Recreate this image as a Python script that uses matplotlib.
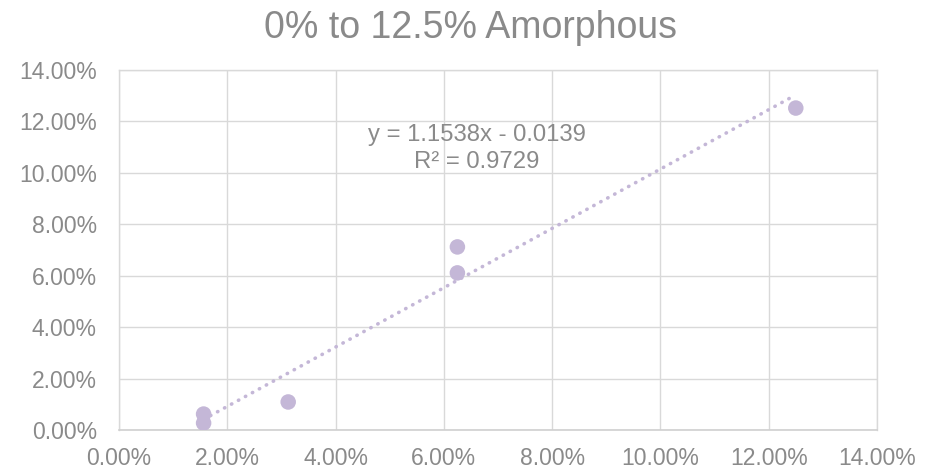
import matplotlib
matplotlib.use("Agg")
import matplotlib.pyplot as plt
from matplotlib.ticker import PercentFormatter, MultipleLocator

plt.rcParams['font.family'] = ['Liberation Sans', 'DejaVu Sans']

# Measured fraction vs. nominal amorphous fraction
nominal = [0.015625, 0.015625, 0.03125, 0.0625, 0.0625, 0.125]
measured = [0.0027, 0.0062, 0.0109, 0.0611, 0.0712, 0.1252]

# Linear trendline coefficients
slope = 1.1538
intercept = -0.0139
r_squared = 0.9729

title = "0% to 12.5% Amorphous"

text_color = "#8A8A8A"
grid_color = "#D9D9D9"
point_color = "#C4B7D7"

fig = plt.figure(figsize=(9.4, 4.72), dpi=100)
ax = fig.add_axes([119 / 940, 1 - 430 / 472, 758 / 940, 360 / 472])

ax.set_xlim(0, 0.14)
ax.set_ylim(0, 0.14)
ax.xaxis.set_major_locator(MultipleLocator(0.02))
ax.yaxis.set_major_locator(MultipleLocator(0.02))
ax.xaxis.set_major_formatter(PercentFormatter(1.0, decimals=2))
ax.yaxis.set_major_formatter(PercentFormatter(1.0, decimals=2))

ax.grid(True, color=grid_color, linewidth=1.0, zorder=0)
ax.set_axisbelow(True)
for side in ["top", "right", "left"]:
    ax.spines[side].set_color(grid_color)
    ax.spines[side].set_linewidth(1.0)
ax.spines["bottom"].set_color("#D0D0D0")
ax.spines["bottom"].set_linewidth(1.2)

ax.tick_params(axis="both", length=0, labelsize=16.5, labelcolor=text_color)
ax.tick_params(axis="y", pad=16)
ax.tick_params(axis="x", pad=12)

# Trendline over the range of the data
x0, x1 = min(nominal), max(nominal)
ax.plot([x0, x1], [slope * x0 + intercept, slope * x1 + intercept],
        color=point_color, linewidth=2.6, linestyle=(0, (0.1, 2.1)),
        dash_capstyle="round", zorder=2)

ax.scatter(nominal, measured, s=125, color=point_color, edgecolors="none", zorder=3)

sign = "-" if intercept < 0 else "+"
ax.text(0.0661, 0.1124, f"y = {slope:.4f}x {sign} {abs(intercept):.4f}",
        ha="center", va="baseline", fontsize=17.2, color=text_color)
ax.text(0.0661, 0.1019, f"R² = {r_squared:.4f}",
        ha="center", va="baseline", fontsize=17.2, color=text_color)

fig.text(0.5, 1 - 28 / 472, title, ha="center", va="center",
         fontsize=27, color=text_color)

fig.savefig("out.png", dpi=100)
